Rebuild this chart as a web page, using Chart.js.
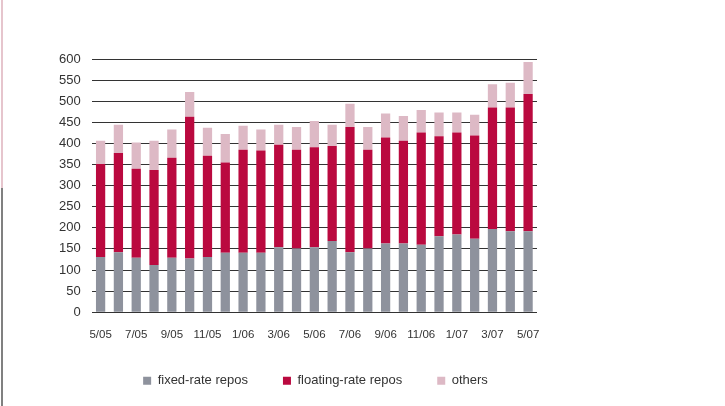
<!DOCTYPE html>
<html>
<head>
<meta charset="utf-8">
<script src="https://cdn.jsdelivr.net/npm/chart.js@4.4.1/dist/chart.umd.min.js"></script>
<style>
  html, body { margin: 0; padding: 0; background: #fff; }
  #marco { position: relative; width: 725px; height: 406px; }
  #borde {
    position: absolute; left: 1px; top: 0; width: 2px; height: 406px;
    background: linear-gradient(#e6c5cd 0, #e6c5cd 188px, #808080 188px, #808080 100%);
  }
  #grafico { position: absolute; left: 0; top: 0; }
</style>
</head>
<body>
<div id="marco">
  <div id="borde"></div>
  <canvas id="grafico" width="725" height="406"></canvas>
</div>
<script>
// meses de 5/05 a 5/07
const meses = [
  "5/05", "6/05", "7/05", "8/05", "9/05", "10/05", "11/05", "12/05",
  "1/06", "2/06", "3/06", "4/06", "5/06", "6/06", "7/06", "8/06",
  "9/06", "10/06", "11/06", "12/06", "1/07", "2/07", "3/07", "4/07", "5/07"
];
const fijo = [131, 142, 129, 112, 129, 127, 131, 141, 141, 141, 154, 151, 154,
  169, 142, 151, 163, 163, 160, 180, 184, 174, 197, 192, 192];
const variable = [220, 235, 211, 225, 237, 336, 240, 214, 244, 242, 243, 234, 237,
  225, 297, 234, 251, 243, 266, 237, 242, 245, 288, 293, 325];
const otros = [55, 67, 62, 69, 67, 59, 66, 67, 57, 50, 47, 54, 62,
  50, 55, 54, 57, 59, 53, 56, 47, 49, 55, 59, 76];
const nombres = ["fixed-rate repos", "floating-rate repos", "others"];
const ejeY = [0, 600, 50]; // min, max, paso

const fuente = "'Liberation Sans Narrow', 'Arial Narrow', 'Liberation Sans', sans-serif";
Chart.defaults.font.family = fuente;
Chart.defaults.color = "#333";

// la leyenda va centrada bajo el area del grafico, a 27px del eje
const moverLeyenda = {
  id: "moverLeyenda",
  afterLayout(chart) {
    const l = chart.legend;
    const alto = l.bottom - l.top;
    l.left += 23;
    l.right += 23;
    l.top = chart.chartArea.bottom + 27;
    l.bottom = l.top + alto;
  },
};

const ctx = document.getElementById("grafico").getContext("2d");
new Chart(ctx, {
  type: "bar",
  data: {
    labels: meses,
    datasets: [
      { label: nombres[0], data: fijo, backgroundColor: "#8e929d" },
      { label: nombres[1], data: variable, backgroundColor: "#ba093f" },
      { label: nombres[2], data: otros, backgroundColor: "#ddb9c5" },
    ],
  },
  options: {
    responsive: false,
    animation: false,
    events: [],
    categoryPercentage: 1,
    barPercentage: 0.52,
    layout: { padding: { left: 48, right: 188, top: 59, bottom: -10 } },
    plugins: {
      tooltip: { enabled: false },
      legend: {
        position: "bottom",
        labels: {
          boxWidth: 8,
          boxHeight: 8,
          padding: 35,
          font: { size: 13 },
          color: "#333",
        },
      },
    },
    scales: {
      x: {
        stacked: true,
        grid: { display: false, drawTicks: false },
        border: { display: false },
        ticks: {
          autoSkip: false,
          maxRotation: 0,
          padding: 16,
          font: { size: 11.5 },
          callback: (v, i) => (i % 2 === 0 ? meses[i] : ""),
        },
      },
      y: {
        stacked: true,
        min: ejeY[0],
        max: ejeY[1],
        grid: { color: "#333", lineWidth: 1, drawTicks: false },
        border: { display: false },
        ticks: { stepSize: ejeY[2], padding: 11, font: { size: 13 } },
      },
    },
  },
  plugins: [moverLeyenda],
});
</script>
</body>
</html>
